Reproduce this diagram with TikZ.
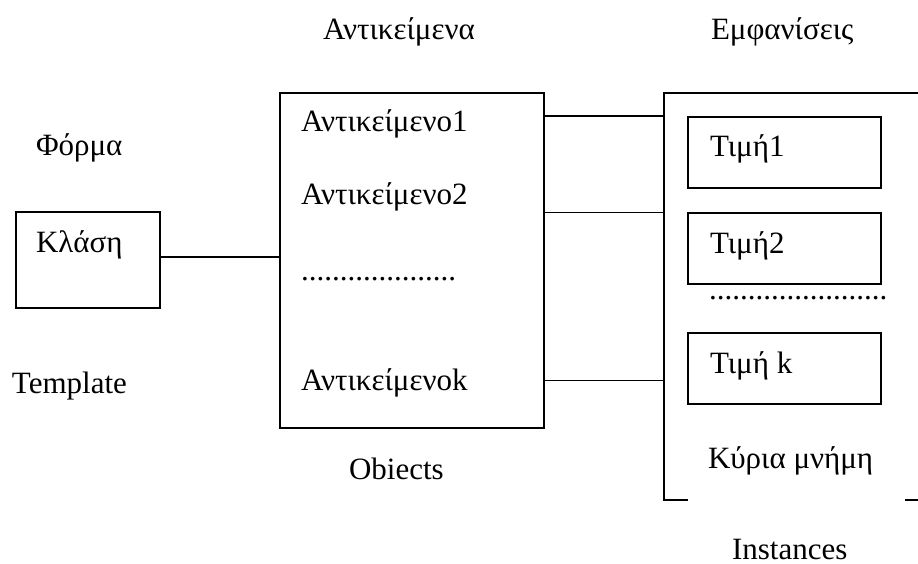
\documentclass[tikz,border=0pt]{standalone}
\usepackage{fontspec}
\setmainfont{Liberation Serif}
\begin{document}
\begin{tikzpicture}[x=1pt,y=-1pt,
  every node/.style={font=\fontsize{31pt}{37pt}\selectfont},
  frame/.style={draw,line width=1.5pt,rectangle,inner sep=0pt},
  lbl/.style={anchor=base west,inner sep=0pt,outer sep=0pt},
  wire/.style={line width=1.5pt},
  dotrow/.style={lbl}]
\useasboundingbox (0,0) rectangle (918,564);

% column headings
\node[lbl] (hobj) at (323,40) {Αντικείμενα};
\node[lbl] (hinst) at (711,40) {Εμφανίσεις};

% class (template) column
\node[lbl] (forma) at (36,156) {Φόρμα};
\node[frame,minimum width=144pt,minimum height=96pt] (klasi) at (88,260) {};
\node[lbl] (klasitxt) at (36,252) {Κλάση};
\node[lbl] (templ) at (12,393) {Template};

% objects column
\node[frame,minimum width=264pt,minimum height=335pt] (objs) at (412,260.5) {};
\node[lbl] (o1) at (301,132) {Αντικείμενο1};
\node[lbl] (o2) at (301,205) {Αντικείμενο2};
\node[dotrow] (odots) at (301,280) {.{}.{}.{}.{}.{}.{}.{}.{}.{}.{}.{}.{}.{}.{}.{}.{}.{}.{}.{}.};
\node[lbl] (ok) at (301,390) {Αντικείμενοk};
\node[lbl] (objlbl) at (349,479) {Obiects};

% main memory column
\coordinate (mtl) at (664,93);
\coordinate (mtr) at (918,93);
\coordinate (mbl) at (664,500);
\coordinate (mbr) at (918,500);
\draw[wire] (mtr) -- (mtl) -- (mbl) -- ++(24,0);
\draw[wire] (mbr) -- ++(-13,0);

\node[frame,minimum width=193pt,minimum height=71pt] (t1) at (784.5,152.5) {};
\node[lbl] (t1txt) at (710,157) {Τιμή1};
\node[frame,minimum width=193pt,minimum height=71pt] (t2) at (784.5,248.5) {};
\node[lbl] (t2txt) at (710,253) {Τιμή2};
\node[dotrow] (tdots) at (709,299) {.{}.{}.{}.{}.{}.{}.{}.{}.{}.{}.{}.{}.{}.{}.{}.{}.{}.{}.{}.{}.{}.{}.};
\node[frame,minimum width=193pt,minimum height=71pt] (tk) at (784.5,368.5) {};
\node[lbl] (tktxt) at (710,373) {Τιμή k};
\node[lbl] (mem) at (708,468) {Κύρια μνήμη};
\node[lbl] (inst) at (732,559) {Instances};

% connectors
\coordinate (c1) at (664,116);
\coordinate (c2) at (664,212.5);
\coordinate (ck) at (664,380.5);
\draw[wire] ([yshift=3pt]klasi.east) -- ([yshift=3pt]klasi.east -| objs.west);
\draw[wire] (c1 -| objs.east) -- (c1);
\draw[wire] (c2 -| objs.east) -- (c2);
\draw[wire] (ck -| objs.east) -- (ck);
\end{tikzpicture}
\end{document}
